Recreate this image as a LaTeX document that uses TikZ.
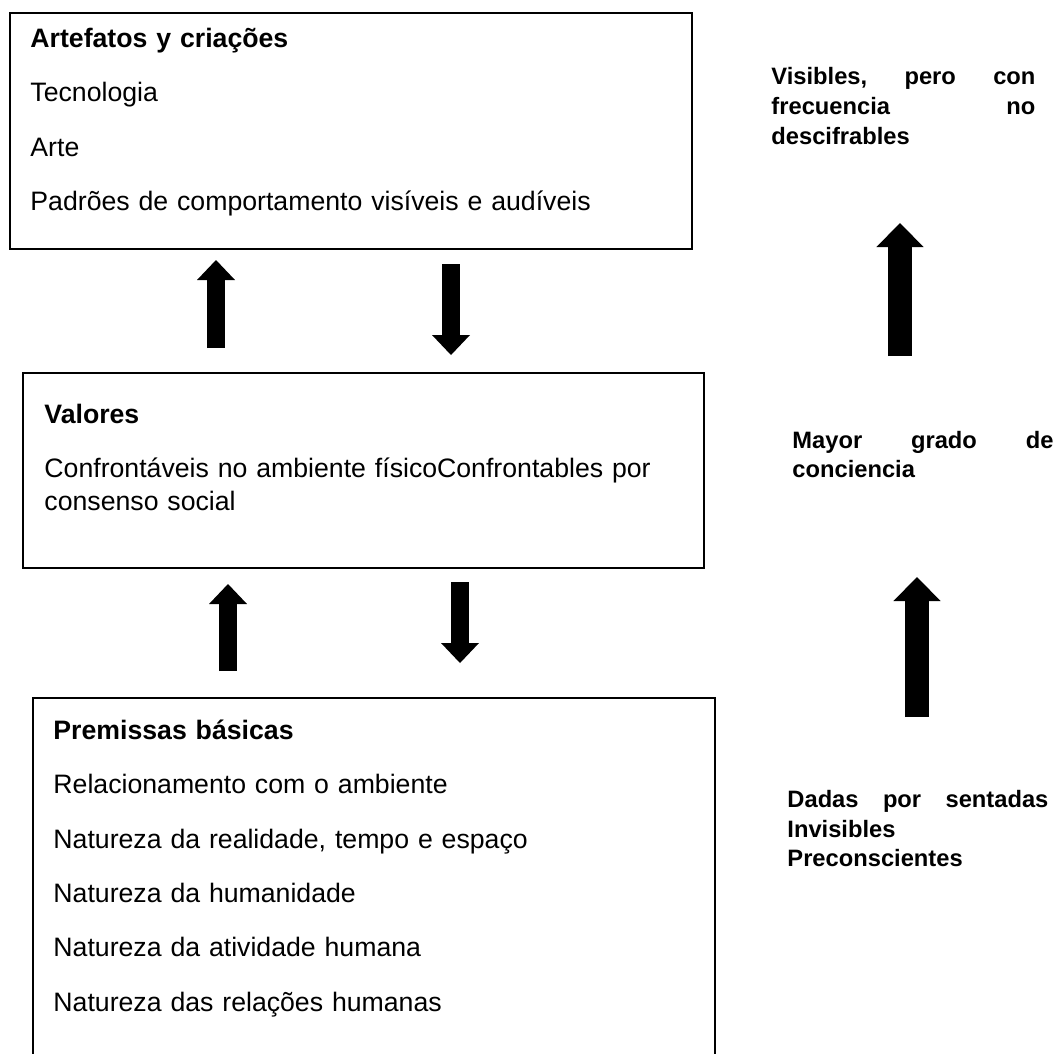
\documentclass[tikz,border=0pt]{standalone}
\usepackage{fontspec}
\setmainfont{Liberation Sans}
\usetikzlibrary{arrows.meta,positioning}

\begin{document}
\begin{tikzpicture}[x=0.45pt, y=-0.45pt,
			caja/.style={draw, line width=0.9pt, anchor=north west, inner sep=0pt, minimum width=306.9pt},
			texto/.style={anchor=north west, inner sep=0pt, align=left, text width=288pt, font=\fontsize{12}{14.85}\selectfont},
			nota/.style={anchor=north west, inner sep=0pt, align=left, text width=#1, font=\fontsize{10.67}{13.3}\selectfont\bfseries},
			flecha/.style={line width=8.1pt, -{Triangle[length=9pt, width=17.1pt, line width=0pt]}},
			flechaR/.style={line width=10.8pt, -{Triangle[length=10.8pt, width=21.2pt, line width=0pt]}}]
			\clip (0,0) rectangle (1058,1053);
			\node[caja, minimum height=106.2pt] (artefatos) at (9,12) {};
			\node[caja, minimum height=87.75pt, minimum width=306.45pt] (valores) at (22,372) {};
			\node[caja, minimum height=180pt] (premissas) at (32,697) {};
			\node[texto, below right=5.35pt and 9.45pt of artefatos.north west] (tArtefatos) {\strut\textbf{Artefatos y criações}\\[9.6pt]Tecnologia\\[9.6pt]Arte\\[9.6pt]Padrões de comportamento visíveis e audíveis};
			\node[texto, below right=12.6pt and 9.9pt of valores.north west] (tValores) {\strut\textbf{Valores}\\[9.6pt]Confrontáveis no ambiente físicoConfrontables por\\consenso social};
			\node[texto, below right=8.55pt and 9.45pt of premissas.north west] (tPremissas) {\strut\textbf{Premissas básicas}\\[9.6pt]Relacionamento com o ambiente\\[9.6pt]Natureza da realidade, tempo e espaço\\[9.6pt]Natureza da humanidade\\[9.6pt]Natureza da atividade humana\\[9.6pt]Natureza das relações humanas};
			\node[nota=118.8pt] (visibles) at (771,63.8) {\strut Visibles,\hfill pero\hfill con\\frecuencia\hfill no\\descifrables};
			\node[nota=117.45pt] (mayor) at (792,427.3) {\strut Mayor\hfill grado\hfill de\\conciencia};
			\node[nota=117.45pt] (dadas) at (787,786.3) {\strut Dadas\hfill por\hfill sentadas\\Invisibles\\Preconscientes};
			\coordinate (sube1) at (216,348); \coordinate (llega1) at (216,260);
			\coordinate (baja1) at (451,264); \coordinate (cae1) at (451,355);
			\coordinate (sube2) at (228,671); \coordinate (llega2) at (228,584);
			\coordinate (baja2) at (460,582); \coordinate (cae2) at (460,663);
			\coordinate (conc1) at (900,356); \coordinate (vis1) at (900,223);
			\coordinate (conc2) at (917,717); \coordinate (vis2) at (917,577);
			\draw[flecha] (sube1) -- (llega1); \draw[flecha] (baja1) -- (cae1);
			\draw[flecha] (sube2) -- (llega2); \draw[flecha] (baja2) -- (cae2);
			\draw[flechaR] (conc1) -- (vis1); \draw[flechaR] (conc2) -- (vis2);
		\end{tikzpicture}
\end{document}
